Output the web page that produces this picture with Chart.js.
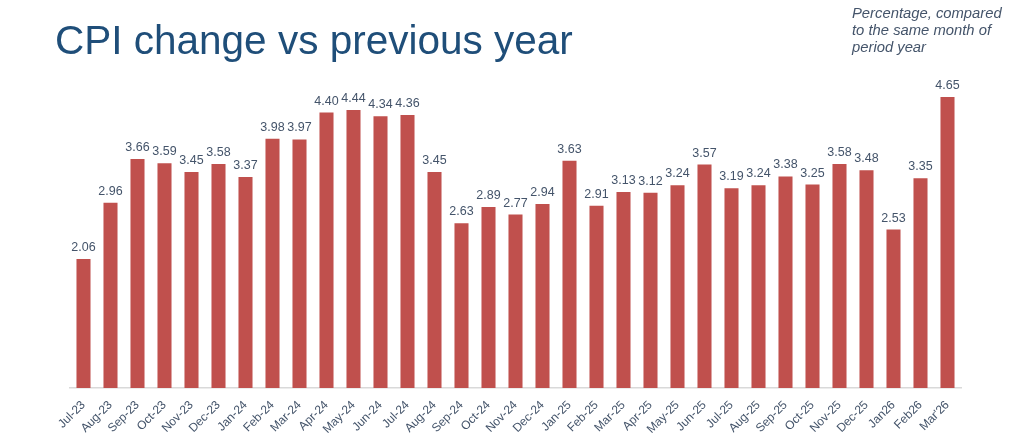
<!DOCTYPE html>
<html>
<head>
<meta charset="utf-8">
<script src="https://cdn.jsdelivr.net/npm/chart.js@4"></script>
<style>
  html, body { margin: 0; padding: 0; background: #fff; }
  #wrap { position: relative; width: 1024px; height: 448px; overflow: hidden; }
  #title { position: absolute; left: 55px; top: 17px; font: 40.5px "Liberation Sans", Arial, sans-serif; color: #1F4E79; white-space: nowrap; }
  #note { position: absolute; left: 852px; top: 5px; font: italic 14.8px "Liberation Sans", Arial, sans-serif; line-height: 17px; color: #44546A; }
  canvas { position: absolute; left: 0; top: 0; }
</style>
</head>
<body>
<div id="wrap">
  <canvas id="chart" width="1024" height="448"></canvas>
  <div id="title">CPI change vs previous year</div>
  <div id="note">Percentage, compared<br>to the same month of<br>period year</div>
</div>
<script>
// months on the x axis
const months = ['Jul-23','Aug-23','Sep-23','Oct-23','Nov-23','Dec-23','Jan-24','Feb-24','Mar-24','Apr-24','May-24','Jun-24','Jul-24',
  'Aug-24','Sep-24','Oct-24','Nov-24','Dec-24','Jan-25','Feb-25','Mar-25','Apr-25','May-25','Jun-25','Jul-25','Aug-25','Sep-25',
  'Oct-25','Nov-25','Dec-25','Jan26','Feb26',"Mar'26"];
// CPI % change year on year
const cpiValues = [2.06,2.96,3.66,3.59,3.45,3.58,3.37,3.98,3.97,4.40,4.44,4.34,4.36,
  3.45,2.63,2.89,2.77,2.94,3.63,2.91,3.13,3.12,3.24,3.57,3.19,3.24,3.38,
  3.25,3.58,3.48,2.53,3.35,4.65];

// value labels above each bar
const barLabels = {
  id: 'barLabels',
  afterDatasetsDraw(chart) {
    const ctx = chart.ctx;
    const meta = chart.getDatasetMeta(0);
    ctx.save();
    ctx.font = '12.5px "Liberation Sans", Arial, sans-serif';
    ctx.fillStyle = '#44546A';
    ctx.textAlign = 'center';
    ctx.textBaseline = 'alphabetic';
    meta.data.forEach((bar, i) => {
      ctx.fillText(cpiValues[i].toFixed(2), bar.x, bar.y - 8);
    });
    ctx.restore();
  }
};

new Chart(document.getElementById('chart'), {
  type: 'bar',
  data: {
    labels: months,
    datasets: [{ data: cpiValues, backgroundColor: '#C0504D', borderWidth: 0, barPercentage: 0.52, categoryPercentage: 1 }]
  },
  options: {
    responsive: false,
    animation: false,
    layout: { padding: { left: 70, right: 63, top: 75, bottom: 10 } },
    plugins: { legend: { display: false }, tooltip: { enabled: false } },
    scales: {
      x: {
        grid: { display: false },
        border: { display: true, color: '#D9D9D9', width: 1.5 },
        ticks: { minRotation: 45, maxRotation: 45, autoSkip: false, padding: 2, color: '#44546A',
                 font: { family: '"Liberation Sans", Arial, sans-serif', size: 12 } },
        afterFit(scale) { scale.height = 50; }
      },
      y: { display: false, min: 0, max: 5.0 }
    }
  },
  plugins: [barLabels]
});
</script>
</body>
</html>
